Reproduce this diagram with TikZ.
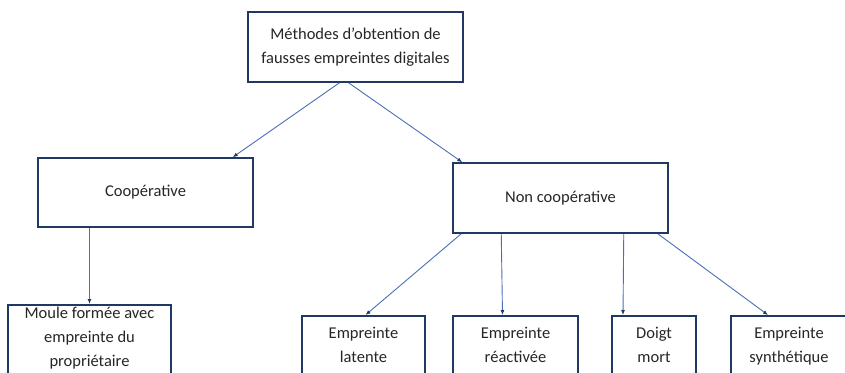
\documentclass[tikz,border=0pt]{standalone}
\usepackage{fontspec}
\setmainfont{Carlito}
\usetikzlibrary{arrows.meta}
\definecolor{boxblue}{HTML}{1F3864}
\definecolor{lineblue}{HTML}{4A6FB5}
\definecolor{txtgray}{HTML}{262626}

\begin{document}
\begin{tikzpicture}[x=1pt, y=-1pt,
    box/.style={rectangle, draw=boxblue, line width=1.5pt, fill=white, text=txtgray,
      align=center, font=\fontsize{16.5}{24}\selectfont},
    arr/.style={draw=lineblue, line width=0.9pt, -{Latex[length=5pt,width=4pt,color=boxblue]}}]
  \useasboundingbox (0,0) rectangle (845,372);
  \node (top) at (355.5,47) [box, minimum width=215pt, minimum height=70pt] {M\'ethodes d'obtention de\\fausses empreintes digitales};
  \node (coop) at (145.5,192.5) [box, minimum width=215pt, minimum height=69pt] {Coop\'erative};
  \node (nc) at (560.5,198) [box, minimum width=215pt, minimum height=70pt] {Non coop\'erative};
  % boxes cut by the lower edge: an empty last line keeps their bottom out of view
  \node (moule) at (89.5,304) [box, anchor=north, minimum width=163pt, inner ysep=2pt] {Moule form\'ee avec\\empreinte du\\propri\'etaire\\ \strut};
  \node (lat) at (363.5,315) [box, anchor=north, minimum width=123pt, inner ysep=11pt] {Empreinte\\latente\\ \strut};
  \node (react) at (515.5,315) [box, anchor=north, minimum width=125pt, inner ysep=11pt] {Empreinte\\r\'eactiv\'ee\\ \strut};
  \node (doigt) at (654,315) [box, anchor=north, minimum width=84pt, inner ysep=11pt] {Doigt\\mort\\ \strut};
  \node (synth) at (789,315) [box, anchor=north, minimum width=116pt, inner ysep=11pt] {Empreinte\\synth\'etique\\ \strut};
  \draw[arr] ([xshift=-16pt]top.south) -- ([xshift=-21pt]coop.north east);
  \draw[arr] ([xshift=-7pt]top.south) -- ([xshift=10pt]nc.north west);
  \draw[arr] ([xshift=-56pt]coop.south) -- (moule.north);
  \draw[arr] ([xshift=9pt]nc.south west) -- ([xshift=2pt]lat.north);
  \draw[arr] ([xshift=49pt]nc.south west) -- ([xshift=-13pt]react.north);
  \draw[arr] ([xshift=-45pt]nc.south east) -- ([xshift=-31pt]doigt.north);
  \draw[arr] ([xshift=-11pt]nc.south east) -- ([xshift=-21pt]synth.north);
\end{tikzpicture}
\end{document}
